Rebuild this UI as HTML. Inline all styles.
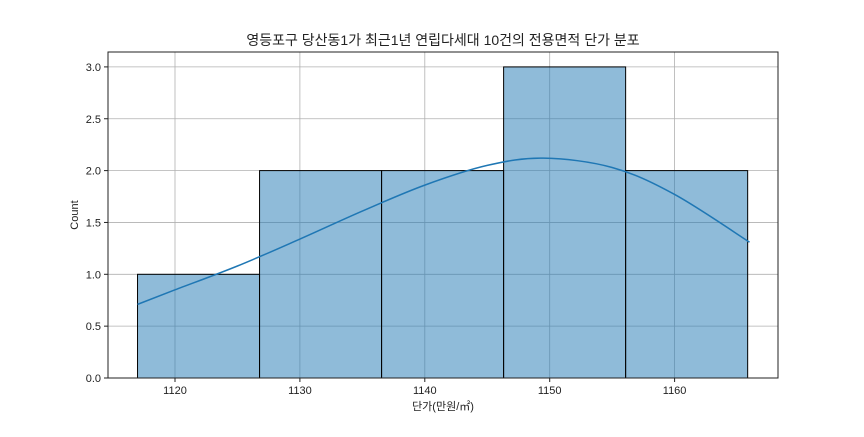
<!DOCTYPE html>
<html><head><meta charset="utf-8"><style>
body{margin:0;background:#fff;}
svg text{font-family:"Liberation Sans","Noto Sans CJK KR",sans-serif;fill:#222;}
</style></head><body>
<svg id="chart" width="864" height="432">
<text x="443" y="45" text-anchor="middle" font-size="14">영등포구 당산동1가 최근1년 연립다세대 10건의 전용면적 단가 분포</text>
<text x="443" y="410" text-anchor="middle" font-size="11">단가(만원/㎡)</text>
<text x="78" y="215" text-anchor="middle" font-size="11" transform="rotate(-90 78 215)">Count</text>
<g id="grid"></g><g id="bars"></g><g id="kde"></g><g id="ticks"></g>
<rect x="108" y="52" width="670" height="326" fill="none" stroke="#222" stroke-width="1"/>
</svg>
<script>
const binStart = 1117.0;
const binWidth = 9.77;
const counts = [1, 2, 2, 3, 2];
const kdeX = [1117, 1120, 1125, 1130, 1135, 1140, 1145, 1149.5, 1155, 1160, 1166];
const kdeY = [0.71, 0.85, 1.08, 1.34, 1.61, 1.86, 2.05, 2.12, 2.03, 1.77, 1.31];
const xTicks = [1120, 1130, 1140, 1150, 1160];
const yTicks = [0.0, 0.5, 1.0, 1.5, 2.0, 2.5, 3.0];
const X = v => 175 + (v - 1120) * 12.49;
const Y = v => 378 - v * 103.7;
const NS = 'http://www.w3.org/2000/svg';
function mk(t, a, p){const e=document.createElementNS(NS,t);for(const k in a)e.setAttribute(k,a[k]);p.appendChild(e);return e;}
const grid=document.getElementById('grid'), bars=document.getElementById('bars'), kde=document.getElementById('kde'), ticks=document.getElementById('ticks');
xTicks.forEach(v=>{
  const l=mk('line',{x1:X(v),x2:X(v),y1:52,y2:378,stroke:'#b0b0b0','stroke-width':0.8},grid);
  
  
  mk('line',{x1:X(v),x2:X(v),y1:378,y2:382,stroke:'#222'},ticks);
  const t=mk('text',{x:X(v),y:394,'text-anchor':'middle','font-size':11},ticks);
  t.textContent=v;
  
  
});
yTicks.forEach(v=>{
  const l=mk('line',{x1:108,x2:778,y1:Y(v),y2:Y(v),stroke:'#b0b0b0','stroke-width':0.8},grid);
  
  
  mk('line',{x1:104,x2:108,y1:Y(v),y2:Y(v),stroke:'#222'},ticks);
  const t=mk('text',{x:101,y:Y(v)+4,'text-anchor':'end','font-size':11},ticks);
  t.textContent=v.toFixed(1);
  
  
});
counts.forEach((c,i)=>{
  const x0=X(binStart+i*binWidth), x1=X(binStart+(i+1)*binWidth);
  const r=mk('rect',{x:x0,y:Y(c),width:x1-x0,height:Y(0)-Y(c),fill:'rgba(31,119,180,0.5)',stroke:'#000','stroke-width':1},bars);
  
  
});
const pts=kdeX.map((v,i)=>[X(v),Y(kdeY[i])]);
let d='M'+pts[0][0]+','+pts[0][1];
for(let i=0;i<pts.length-1;i++){
  const p0=pts[Math.max(0,i-1)],p1=pts[i],p2=pts[i+1],p3=pts[Math.min(pts.length-1,i+2)];
  const c1=[p1[0]+(p2[0]-p0[0])/6,p1[1]+(p2[1]-p0[1])/6],c2=[p2[0]-(p3[0]-p1[0])/6,p2[1]-(p3[1]-p1[1])/6];
  d+=' C'+c1+' '+c2+' '+p2;
}
const path=mk('path',{d:d,fill:'none',stroke:'#1f77b4','stroke-width':1.5},kde);


</script>
</body></html>
